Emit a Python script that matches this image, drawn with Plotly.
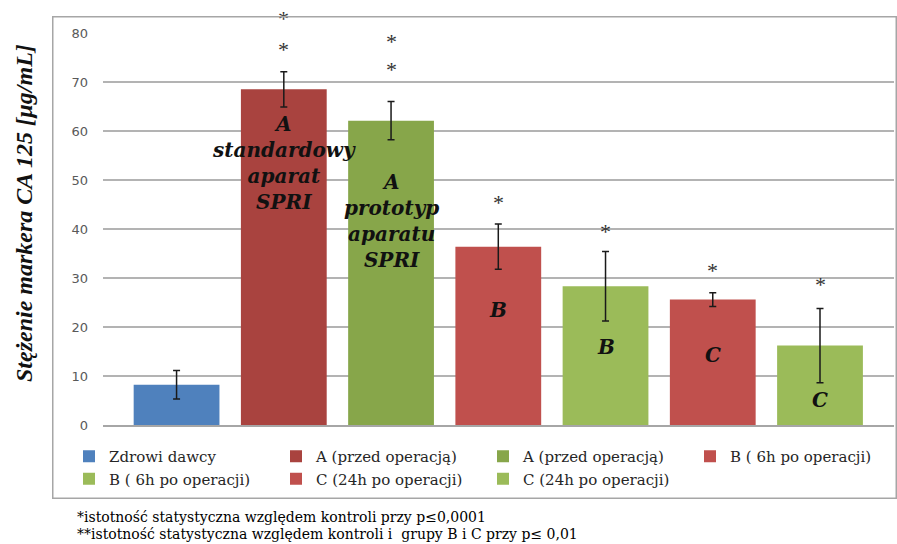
import plotly.graph_objects as go

# ---- data ----
names = ["Zdrowi dawcy", "A (przed operacją)", "A (przed operacją)", "B ( 6h po operacji)",
         "B ( 6h po operacji)", "C (24h po operacji)", "C (24h po operacji)"]
values = [8.2, 68.5, 62.1, 36.4, 28.3, 25.6, 16.2]
errors = [2.9, 3.6, 3.9, 4.6, 7.1, 1.4, 7.6]
colors = ["#4F81BD", "#A9433F", "#87A64A", "#C0504D", "#9BBB59", "#C0504D", "#9BBB59"]
bar_labels = ["", "A<br>standardowy<br>aparat<br>SPRI", "A<br>prototyp<br>aparatu<br>SPRI",
              "B", "B", "C", "C"]
label_y = [None, 53.4, 41.6, 23.5, 15.9, 14.3, 5.1]
stars = [[], [83.3, 77.1], [78.6, 72.9], [45.9], [39.8], [32.0], [29.0]]
y_ticks = [0, 10, 20, 30, 40, 50, 60, 70, 80]
y_max = 80
y_title = "Stężenie markera CA 125 [µg/mL]"
footnotes = ["*istotność statystyczna względem kontroli przy p≤0,0001",
             "**istotność statystyczna względem kontroli i  grupy B i C przy p≤ 0,01"]

W, H = 897, 544
L, R, T, B = 103, 3, 33, 119
pw, ph = W - L - R, H - T - B

fig = go.Figure()
for i in range(len(values)):
    fig.add_trace(go.Bar(
        x=[i], y=[values[i]], name=names[i], width=0.8,
        marker=dict(color=colors[i], line=dict(width=0)),
        error_y=dict(type="data", array=[errors[i]], color="#1a1a1a", thickness=1.5, width=3.5),
        legendrank=i + 1, showlegend=True,
    ))

serif = "Liberation Serif"
wide_serif = "DejaVu Serif"
ann = []
for i, lab in enumerate(bar_labels):
    if lab:
        ann.append(dict(x=i, y=label_y[i], xref="x", yref="y", text="<b><i>" + lab + "</i></b>",
                        xanchor="center", yanchor="middle", showarrow=False,
                        font=dict(family=wide_serif, size=20, color="#111111")))
for i, ss in enumerate(stars):
    for s in ss:
        # paper y == value / y_max since the y axis spans the whole domain from 0 to y_max
        ann.append(dict(x=i, y=s / y_max, xref="x", yref="paper", text="*", yshift=-2,
                        xanchor="center", yanchor="middle", showarrow=False,
                        font=dict(family=serif, size=22, color="#333333")))
ann.append(dict(x=(24 - L) / pw, y=(T + ph - 213) / ph, xref="paper", yref="paper",
                xanchor="center", yanchor="middle",
                text="<b><i>" + y_title + "</i></b>", textangle=-90, showarrow=False,
                font=dict(family=serif, size=24, color="#111111")))
for k, ft in enumerate(footnotes):
    ann.append(dict(x=(75 - L) / pw, y=(T + ph - (517 + 17 * k)) / ph, xref="paper", yref="paper",
                    xanchor="left", yanchor="middle", text=ft, showarrow=False,
                    font=dict(family=wide_serif, size=14, color="#000000")))
# outer chart frame (box drawn as a bordered, empty annotation)
fx0, fx1, fy0, fy1 = 53, 896, 17, 498
ann.append(dict(x=((fx0 + fx1) / 2 - L) / pw, y=(T + ph - (fy0 + fy1) / 2) / ph,
                xref="paper", yref="paper", xanchor="center", yanchor="middle",
                text="\u00a0", showarrow=False, width=fx1 - fx0 - 1, height=fy1 - fy0 - 1,
                borderpad=0, bordercolor="#a6a6a6", borderwidth=1.5, bgcolor="rgba(0,0,0,0)"))

fig.update_layout(
    width=W, height=H, margin=dict(l=L, r=R, t=T, b=B, pad=0),
    paper_bgcolor="white", plot_bgcolor="white",
    barmode="overlay",
    xaxis=dict(range=[-0.686, 6.69], showticklabels=False, showgrid=False, zeroline=False,
               showline=True, linecolor="#a6a6a6", linewidth=1.5, ticks=""),
    yaxis=dict(range=[0, y_max], tickvals=y_ticks, showgrid=True, gridcolor="#b3b3b3", gridwidth=1.5,
               zeroline=False, showline=False, ticks="", ticklabelstandoff=14,
               tickfont=dict(family="DejaVu Sans", size=13, color="#595959")),
    legend=dict(orientation="h", x=(78 - L) / pw, xanchor="left", y=(T + ph - 440) / ph, yanchor="top",
                entrywidth=162, entrywidthmode="pixels", itemwidth=30, traceorder="normal",
                font=dict(family=wide_serif, size=15, color="#262626"), bgcolor="rgba(0,0,0,0)",
                tracegroupgap=0),
    annotations=ann, showlegend=True,
)
fig.write_html("out.html")
